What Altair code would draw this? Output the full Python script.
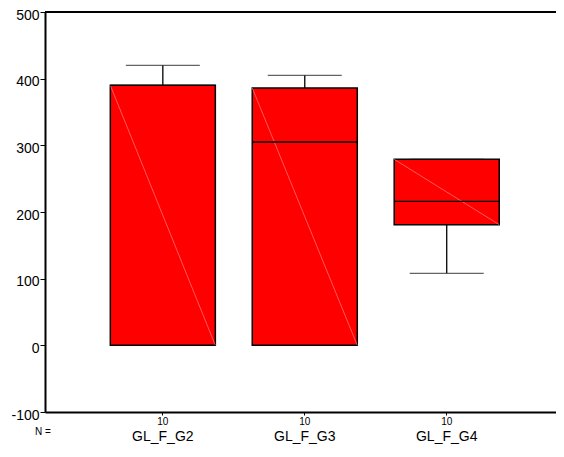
import altair as alt
import pandas as pd

categories = ["GL_F_G2", "GL_F_G3", "GL_F_G4"]
n_counts = [10, 10, 10]
whisker_low = [0, 0, 108]
q1 = [0, 0, 181]
median = [390, 305, 216]
q3 = [390, 386, 279]
whisker_high = [420, 405, 279]
y_ticks = [-100, 0, 100, 200, 300, 400, 500]

df = pd.DataFrame({
    "category": categories,
    "n": n_counts,
    "lo": whisker_low,
    "q1": q1,
    "med": median,
    "q3": q3,
    "hi": whisker_high,
})

FONT = "Liberation Sans"

xscale = alt.Scale(domain=categories, paddingInner=0.26, paddingOuter=0.43, align=0.535)
yscale = alt.Scale(domain=[-100, 500], nice=False, zero=False)

x_enc = alt.X(
    "category:N", scale=xscale, title=None,
    axis=alt.Axis(tickSize=3, labelPadding=25, labelFontSize=14, labelAngle=0,
                  labelFont=FONT, labelBaseline="alphabetic"),
)
y_axis = alt.Axis(values=y_ticks, tickSize=5, labelPadding=1, labelFontSize=14,
                  labelOffset=3, labelFont=FONT, labelExpr="'' + datum.value",
                  grid=False)

base = alt.Chart(df)

upper_whisker = base.mark_rule(color="black", strokeWidth=1.3).encode(
    x=x_enc,
    y=alt.Y("q3:Q", scale=yscale, axis=y_axis, title=None),
    y2="hi:Q",
)
lower_whisker = base.mark_rule(color="black", strokeWidth=1.3).encode(
    x=x_enc, y=alt.Y("lo:Q", scale=yscale), y2="q1:Q",
)
caps_hi = base.mark_tick(color="#222222", size=74, thickness=1.3).encode(
    x=x_enc, y=alt.Y("hi:Q", scale=yscale),
)
caps_lo = base.mark_tick(color="#222222", size=74, thickness=1.3).encode(
    x=x_enc, y=alt.Y("lo:Q", scale=yscale),
)
boxes = base.mark_bar(color="#ff0000", stroke="black", strokeWidth=1.5).encode(
    x=x_enc, y=alt.Y("q3:Q", scale=yscale), y2="q1:Q",
)
diag = base.mark_rule(color="#ff8080", strokeWidth=0.7).encode(
    x=alt.X("category:N", scale=xscale, bandPosition=0),
    x2=alt.X2("category:N", bandPosition=1),
    y=alt.Y("q3:Q", scale=yscale), y2="q1:Q",
)
med_line = base.mark_rule(color="black", strokeWidth=1.3).encode(
    x=alt.X("category:N", scale=xscale, bandPosition=0),
    x2=alt.X2("category:N", bandPosition=1),
    y=alt.Y("med:Q", scale=yscale),
)
top_frame = alt.Chart(pd.DataFrame({"v": [500]})).mark_rule(
    color="black", strokeWidth=2).encode(y=alt.Y("v:Q", scale=yscale))

n_text = base.mark_text(font=FONT, fontSize=10, baseline="middle", color="black").encode(
    x=x_enc, y=alt.value(410), text="n:Q",
)
n_label = alt.Chart(pd.DataFrame({"t": ["N ="]})).mark_text(
    font=FONT, fontSize=10, baseline="middle", color="black").encode(
    x=alt.value(-2), y=alt.value(420), text="t:N",
)

chart = alt.layer(
    upper_whisker, lower_whisker, caps_hi, caps_lo, boxes, diag, med_line,
    top_frame, n_text, n_label,
).properties(
    width=511, height=400,
    autosize=alt.AutoSizeParams(type="none"),
    padding={"left": 37, "top": 4, "right": 0, "bottom": 32},
).configure_view(stroke=None).configure_axis(
    domainColor="black", domainWidth=2, tickColor="black", tickWidth=1,
    labelColor="black", grid=False,
)

chart.save("out.html", embed_options={"renderer": "svg", "actions": False})
